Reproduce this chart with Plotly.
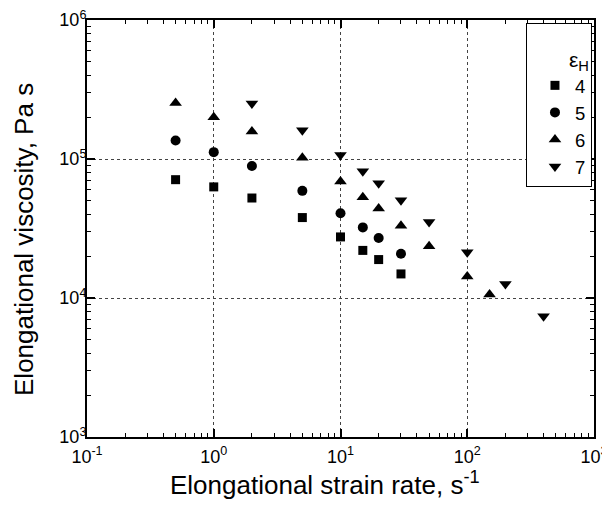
import plotly.graph_objects as go

# Elongational strain rate (s^-1)
rate_h4 = [0.5, 1, 2, 5, 10, 15, 20, 30]
visc_h4 = [7.1e4, 6.3e4, 5.24e4, 3.79e4, 2.75e4, 2.2e4, 1.89e4, 1.49e4]

rate_h5 = [0.5, 1, 2, 5, 10, 15, 20, 30]
visc_h5 = [1.36e5, 1.12e5, 8.9e4, 5.9e4, 4.07e4, 3.22e4, 2.70e4, 2.08e4]

rate_h6 = [0.5, 1, 2, 5, 10, 15, 20, 30, 50, 100, 150]
visc_h6 = [2.53e5, 2.0e5, 1.58e5, 1.02e5, 6.9e4, 5.3e4, 4.4e4, 3.31e4, 2.36e4, 1.43e4, 1.06e4]

rate_h7 = [2, 5, 10, 15, 20, 30, 50, 100, 200, 400]
visc_h7 = [2.51e5, 1.61e5, 1.07e5, 8.15e4, 6.7e4, 5.05e4, 3.52e4, 2.13e4, 1.26e4, 7.4e3]

series_names = ["4", "5", "6", "7"]
x_tickvals = [0.1, 1, 10, 100, 1000]
x_ticktext = ["10<sup>-1</sup>", "10<sup>0</sup>", "10<sup>1</sup>", "10<sup>2</sup>", "10<sup>3</sup>"]
y_tickvals = [1e3, 1e4, 1e5, 1e6]
y_ticktext = ["10<sup>3</sup>", "10<sup>4</sup>", "10<sup>5</sup>", "10<sup>6</sup>"]
x_title = "Elongational strain rate, s<sup>-1</sup>"
y_title = "Elongational viscosity, Pa s"

FONT = "Liberation Sans, Arial, sans-serif"

fig = go.Figure()
specs = [
    (rate_h4, visc_h4, "square", 9),
    (rate_h5, visc_h5, "circle", 10),
    (rate_h6, visc_h6, "triangle-up", 11),
    (rate_h7, visc_h7, "triangle-down", 11),
]
for name, (xs, ys, sym, sz) in zip(series_names, specs):
    fig.add_trace(go.Scatter(
        x=xs, y=ys, mode="markers", name=name,
        marker=dict(symbol=sym, size=sz, color="black"),
    ))

axis_common = dict(
    type="log", automargin=False, ticklabeloverflow="allow",
    showline=True, linecolor="black", linewidth=2, mirror="allticks",
    ticks="inside", ticklen=8, tickwidth=1.5, tickcolor="black",
    showgrid=True, gridcolor="#444", gridwidth=1, griddash="dot",
    zeroline=False,
    tickfont=dict(family=FONT, size=18, color="black"),
    minor=dict(ticks="inside", ticklen=4, tickwidth=1, tickcolor="black", dtick="D1", showgrid=False),
)

fig.update_xaxes(
    **axis_common,
    range=[-1, 3], tickmode="array", tickvals=x_tickvals, ticktext=x_ticktext,
    ticklabelstandoff=2,
)
fig.update_yaxes(
    **axis_common,
    range=[3, 6], tickmode="array", tickvals=y_tickvals, ticktext=y_ticktext,
    ticklabelstandoff=-5,
)

# axis titles placed as annotations for exact positioning
fig.add_annotation(text=x_title, xref="paper", yref="paper", x=0.4704, y=-0.111,
                   xanchor="center", yanchor="middle", showarrow=False,
                   font=dict(family=FONT, size=26, color="black"))
fig.add_annotation(text=y_title, xref="paper", yref="paper", x=-0.1243, y=0.4748,
                   xanchor="center", yanchor="middle", showarrow=False, textangle=-90,
                   font=dict(family=FONT, size=26, color="black"))

fig.update_layout(
    width=602, height=498,
    margin=dict(l=79, r=16, t=12, b=69),
    paper_bgcolor="white", plot_bgcolor="white",
    font=dict(family=FONT, color="black"),
    legend=dict(
        x=0.996, y=0.993, xanchor="right", yanchor="top",
        bgcolor="white", bordercolor="black", borderwidth=1,
        font=dict(family=FONT, size=18.5, color="black"),
        title=dict(text="<span style='font-size:21px'>ε<sub>H</sub></span>", side="top right",
                   font=dict(family=FONT, size=33, color="black")),
        itemwidth=30, indentation=8, tracegroupgap=0,
    ),
)

fig.write_html("out.html")
